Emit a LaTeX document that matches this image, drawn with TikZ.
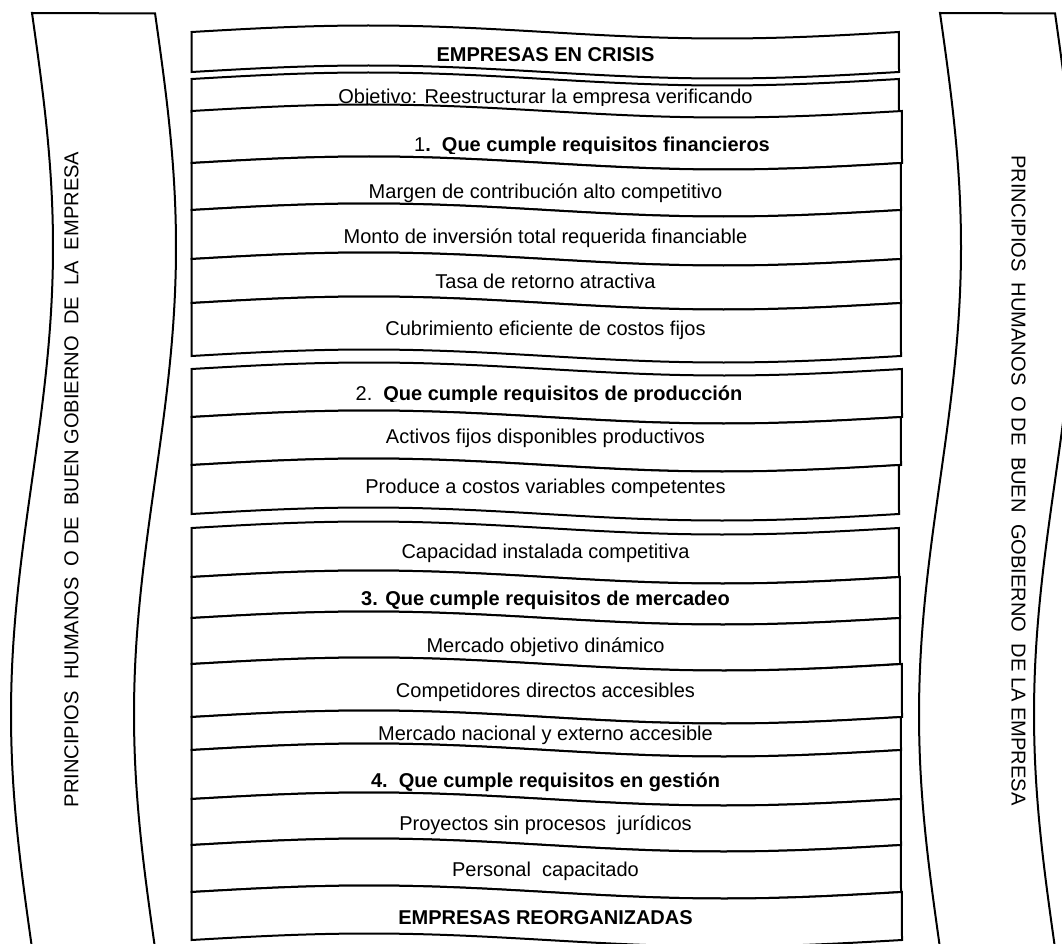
\documentclass[tikz,border=0pt]{standalone}
\usepackage{fontspec}
\setmainfont{Liberation Sans}
\begin{document}
\begin{tikzpicture}[x=1pt,y=-1pt,
  edge/.style={line width=2pt, line join=miter},
  tapefill/.style={edge, fill=white},
  lbl/.style={anchor=base, inner sep=0pt, font=\fontsize{20}{24}\selectfont},
  side/.style={inner sep=0pt, font=\fontsize{20.1}{24}\selectfont}]
\useasboundingbox (0,0) rectangle (1062,944);
\clip (0,0) rectangle (1062,944);
\fill[white] (0,0) rectangle (1062,944);
% wave settings
\def\tapeamp{6.5}
% tape-shaped box: x-left, x-right, y-top, y-bottom (ends of the waves)
\newcommand\tapeshape[4]{%
  \filldraw[tapefill]
    plot[domain=0:1,samples=61] ({#1+(#2-#1)*\x},{#3-\tapeamp*sin(360*\x)})
    -- plot[domain=1:0,samples=61] ({#1+(#2-#1)*\x},{#4-\tapeamp*sin(360*\x)})
    -- cycle;}
% label whose descenders are cut off just below the baseline
\newcommand\cutlabel[4]{%
  \begin{scope}
    \clip (200,#3-30) rectangle (895,#3+1.2);
    \node[lbl] (#1) at (#2,#3) {#4};
  \end{scope}}
% side banners (parameter runs from the top edge at y=13 down to y=965)
\filldraw[edge, fill=white]
  plot[domain=0:1,samples=90] ({32+21*sin(366.5*\x)},{13+952*\x})
  -- plot[domain=1:0,samples=90] ({155+21*sin(366.5*\x)},{13+952*\x})
  -- cycle;
\filldraw[edge, fill=white]
  plot[domain=0:1,samples=90] ({940+21*sin(366.5*\x)},{13+952*\x})
  -- plot[domain=1:0,samples=90] ({1055+21*sin(366.5*\x)},{13+952*\x})
  -- cycle;
\node[side, rotate=90] (leftband) at (71.5,479.5)
  {PRINCIPIOS\ \ HUMANOS\ \ O DE\ \ BUEN GOBIERNO\ \ DE\ \ LA\ \ EMPRESA};
\node[side, rotate=-90] (rightband) at (1018.5,480.5)
  {PRINCIPIOS\ \ HUMANOS\ \ O DE\ \ BUEN\ \ GOBIERNO\ \ DE LA EMPRESA};
% central stack, drawn top to bottom so each box overlaps the one above
\tapeshape{191.5}{899}{32}{72}
\node[lbl] (crisis) at (545.5,62) {\textbf{EMPRESAS EN CRISIS}};
\tapeshape{191.5}{899}{79}{112}
\cutlabel{objetivo}{545.5}{104}{Objetivo: Reestructurar la empresa verificando}
\tapeshape{191.5}{902}{111}{163}
\cutlabel{req1}{592}{152}{1\textbf{.\ \ Que cumple requisitos financieros}}
\tapeshape{191.5}{901}{163}{210}
\node[lbl] (margen) at (545.5,198) {Margen de contribución alto competitivo};
\tapeshape{191.5}{901}{210}{259}
\node[lbl] (monto) at (545.5,243) {Monto de inversión total requerida financiable};
\tapeshape{191.5}{901}{259}{303}
\node[lbl] (tasa) at (545.5,288) {Tasa de retorno atractiva};
\tapeshape{191.5}{901}{303}{356}
\node[lbl] (cubri) at (545.5,335) {Cubrimiento eficiente de costos fijos};
\tapeshape{191.5}{902}{369}{417}
\cutlabel{req2}{549}{400}{2.\ \ \textbf{Que cumple requisitos de producción}}
\tapeshape{191.5}{901}{417}{465}
\node[lbl] (activos) at (545.5,443) {Activos fijos disponibles productivos};
\tapeshape{191.5}{899}{465}{514}
\node[lbl] (produce) at (545.5,493) {Produce a costos variables competentes};
\tapeshape{191.5}{899}{528}{577}
\node[lbl] (capac) at (545.5,558) {Capacidad instalada competitiva};
\tapeshape{191.5}{900}{577}{618}
\node[lbl] (req3) at (545.5,605) {\textbf{3. Que cumple requisitos de mercadeo}};
\tapeshape{191.5}{900}{618}{664}
\node[lbl] (mobj) at (545.5,652) {Mercado objetivo dinámico};
\tapeshape{191.5}{902}{664}{717}
\node[lbl] (compet) at (545.5,697) {Competidores directos accesibles};
\tapeshape{191.5}{901}{717}{750}
\node[lbl] (mnac) at (545.5,740) {Mercado nacional y externo accesible};
\tapeshape{191.5}{901}{750}{799}
\node[lbl] (req4) at (545.5,787) {\textbf{4.\ \ Que cumple requisitos en gestión}};
\tapeshape{191.5}{901}{799}{845}
\node[lbl] (proy) at (545.5,830) {Proyectos sin procesos\ \ jurídicos};
\tapeshape{191.5}{901}{845}{892}
\node[lbl] (personal) at (545.5,876) {Personal\ \ capacitado};
\tapeshape{191.5}{902}{892}{940}
\node[lbl] (reorg) at (545.5,924) {\textbf{EMPRESAS REORGANIZADAS}};
\end{tikzpicture}
\end{document}
